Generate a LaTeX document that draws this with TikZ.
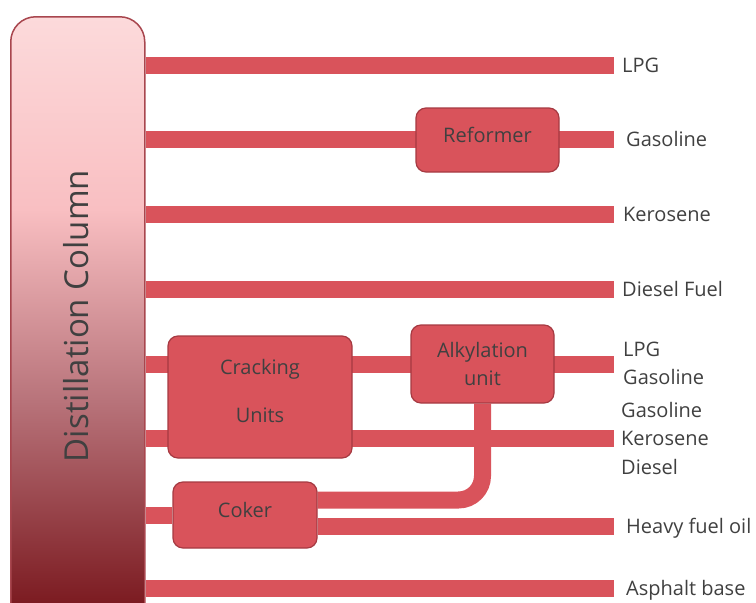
\documentclass[tikz,border=0pt]{standalone}
\usepackage{fontspec}
\setmainfont{Open Sans}
\usetikzlibrary{positioning}
\pgfdeclarelayer{background}
\pgfsetlayers{background,main}

\definecolor{pipered}{HTML}{D9535B}
\definecolor{boxedge}{HTML}{A63A42}
\definecolor{coledge}{HTML}{A8464E}
\definecolor{coltop}{HTML}{FCDADB}
\definecolor{colpink}{HTML}{F9BFC2}
\definecolor{colmauve}{HTML}{B8737A}
\definecolor{colbot}{HTML}{7B1A20}
\definecolor{txtgray}{HTML}{404040}
% Verlauf der Kolonne (Pfad liegt zwischen 25bp und 75bp)
\pgfdeclareverticalshading{colshade}{100bp}{color(0bp)=(colbot); color(27.5bp)=(colbot);
    color(44bp)=(colmauve); color(59.5bp)=(colpink); color(75bp)=(coltop); color(100bp)=(coltop)}

\begin{document}
\begin{tikzpicture}[x=1pt, y=-1pt,
    pipe/.style={draw=pipered, line width=17pt},
    unit/.style={draw=boxedge, line width=1.2pt, fill=pipered, rounded corners=10pt,
        text=txtgray, font=\fontsize{20}{24}\selectfont, align=center, inner sep=0pt},
    product/.style={text=txtgray, font=\fontsize{20}{24}\selectfont, inner sep=0pt,
        text height=14pt, text depth=0pt}]
    \clip (0,0) rectangle (756,603);

    % Kolonne
    \node[draw=coledge, line width=1.5pt, rounded corners=25pt, shade, shading=colshade,
        minimum width=134pt, minimum height=620pt, inner sep=0pt, anchor=north west] (col) at (10,16) {};
    \node[rotate=90, text=txtgray, font=\fontsize{33}{38}\selectfont] (coltxt) at (76,316) {Distillation Column};

    % Anlagen
    \node[unit, minimum width=143pt, minimum height=64pt, text depth=10pt] (reformer) at (487.5,140) {Reformer};
    \node[unit, minimum width=184pt, minimum height=122pt, text depth=12pt] (cracking) at (260,397) {Cracking\\[24pt]Units};
    \node[unit, minimum width=143pt, minimum height=78pt] (alkyl) at (482.5,364) {Alkylation\\[4pt]unit};
    \node[unit, minimum width=144pt, minimum height=66pt, text depth=10pt] (coker) at (245,515) {Coker};

    % Ausgaenge
    \coordinate (o1) at (614,65);
    \coordinate (o2) at (614,139);
    \coordinate (o3) at (614,214);
    \coordinate (o4) at (614,289);
    \coordinate (o5) at (614,364);
    \coordinate (o6) at (614,438);
    \coordinate (o7) at (614,526);
    \coordinate (o8) at (614,588);

    % Leitungen
    \begin{pgfonlayer}{background}
        \foreach \o in {o1,o2,o3,o4,o5,o6,o8}
            \draw[pipe] (col.east |- \o) -- (\o);
        \draw[pipe] (col.east |- coker) -- (coker.west);
        \draw[pipe] (coker.east |- o7) -- (o7);
        \draw[pipe, rounded corners=24pt] (alkyl.south) |- ([yshift=15pt]coker.east);
    \end{pgfonlayer}

    % Produkte
    \node[product, right=8pt of o1] (lpg) {LPG};
    \node[product, right=12pt of o2] (gasoline) {Gasoline};
    \node[product, right=9pt of o3] (kerosene) {Kerosene};
    \node[product, right=8pt of o4] (diesel) {Diesel Fuel};
    \node[product, right=9pt of o5, yshift=15pt] (lpgb) {LPG};
    \node[product, right=9pt of o5, yshift=-13pt] (gasolineb) {Gasoline};
    \node[product, right=7pt of o6, yshift=28pt] (gasolinec) {Gasoline};
    \node[product, right=7pt of o6] (kerosenec) {Kerosene};
    \node[product, right=7pt of o6, yshift=-29pt] (dieselc) {Diesel};
    \node[product, right=12pt of o7] (hfo) {Heavy fuel oil};
    \node[product, right=12pt of o8] (asphalt) {Asphalt base};
\end{tikzpicture}
\end{document}
